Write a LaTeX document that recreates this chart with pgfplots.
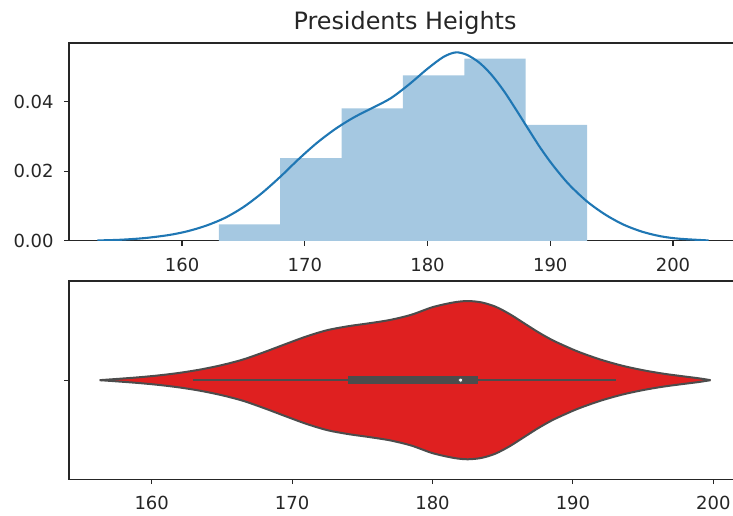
\documentclass[border=0pt]{standalone}
\usepackage{fontspec}
\setmainfont{DejaVu Sans}
\usepackage{pgfplots}
\pgfplotsset{compat=1.18}
\definecolor{c0}{HTML}{1F77B4}
\definecolor{histc}{HTML}{A5C8E1}
\definecolor{vred}{HTML}{DF2020}
\definecolor{vgray}{HTML}{4C4C4C}
\definecolor{spine}{HTML}{262626}
\pgfplotsset{
  myaxis/.style={
    scale only axis, width=672pt,
    axis line style={spine, line width=1.1pt},
    every tick/.style={spine, line width=1.1pt},
    major tick length=4.9pt,
    tick align=outside,
    xtick pos=left, ytick pos=left,
    scaled y ticks=false, scaled x ticks=false,
    tick label style={font=\fontsize{18}{21.6}\selectfont, text=spine, inner sep=0pt},
    xtick={160,170,180,190,200},
    xticklabels={160,170,180,190,200},
    xticklabel style={anchor=north, yshift=-11.8pt},
    yticklabel style={anchor=east, xshift=-10.3pt},
  }
}
\begin{document}
\begin{tikzpicture}
% ---------- top: histogram + KDE ----------
\begin{axis}[myaxis, at={(69pt,472pt)}, anchor=north west, height=197.8pt,
  xmin=150.79, xmax=205.54, ymin=0, ymax=0.0569,
  ytick={0,0.02,0.04}, yticklabels={0.00,0.02,0.04},
  title={Presidents Heights},
  title style={at={(0.5,1)}, anchor=base, yshift=7pt, inner sep=0pt,
    font=\fontsize{23.9}{28}\selectfont, text=spine}]
\addplot[const plot, fill=histc, draw=none] coordinates {
  (163,0.00476) (168,0.02381) (173,0.03810) (178,0.04762) (183,0.05238) (188,0.03333) (193,0.03333)
} \closedcycle;
\addplot[c0, line width=2.1pt, smooth] coordinates {
  (153.1,0.0001) (155,0.0003) (157,0.0008) (159,0.0017) (160.5,0.0028)
  (162,0.0044) (163.5,0.0066) (165,0.0097) (166.5,0.0137) (168,0.0184)
  (169.5,0.0235) (171,0.0282) (172.5,0.0322) (174,0.0355) (175.5,0.0382)
  (177,0.0410) (178.5,0.0450) (180,0.0495) (181.3,0.0529) (182.3,0.0542)
  (183.2,0.0535) (184.2,0.0513) (185.2,0.0478) (186.2,0.0432) (187.2,0.0378)
  (188.2,0.0322) (189.2,0.0267) (190.2,0.0218) (191.5,0.0163) (193,0.0113)
  (194.5,0.0075) (196,0.0046) (197.5,0.0026) (199,0.0013) (200.5,0.0006)
  (202.9,0.0001)
};
\end{axis}
% ---------- bottom: violin ----------
\begin{axis}[myaxis, at={(69pt,234pt)}, anchor=north west, height=198.3pt,
  xmin=154.11, xmax=201.97, ymin=-0.5, ymax=0.5,
  ytick={0}, yticklabels={}]
\addplot[fill=vred, draw=none, smooth] coordinates {
  (156.3,0) (157.5,0.006) (159,0.014) (160.5,0.024) (162,0.037) (163.5,0.054)
  (165,0.076) (166.5,0.104) (168,0.141) (169.5,0.181) (171,0.220) (172.5,0.252)
  (174,0.272) (175.5,0.287) (177,0.304) (178.5,0.330) (180,0.368) (181.5,0.392)
  (182.5,0.399) (183.5,0.392) (184.5,0.370) (185.5,0.333) (186.5,0.288)
  (187.5,0.243) (188.5,0.203) (189.5,0.170) (190.5,0.140) (192,0.103)
  (193.5,0.073) (195,0.050) (196.5,0.032) (198,0.018) (199,0.009) (199.8,0)
} \closedcycle;
\addplot[fill=vred, draw=none, smooth] coordinates {
  (156.3,0) (157.5,-0.006) (159,-0.014) (160.5,-0.024) (162,-0.037) (163.5,-0.054)
  (165,-0.076) (166.5,-0.104) (168,-0.141) (169.5,-0.181) (171,-0.220) (172.5,-0.252)
  (174,-0.272) (175.5,-0.287) (177,-0.304) (178.5,-0.330) (180,-0.368) (181.5,-0.392)
  (182.5,-0.399) (183.5,-0.392) (184.5,-0.370) (185.5,-0.333) (186.5,-0.288)
  (187.5,-0.243) (188.5,-0.203) (189.5,-0.170) (190.5,-0.140) (192,-0.103)
  (193.5,-0.073) (195,-0.050) (196.5,-0.032) (198,-0.018) (199,-0.009) (199.8,0)
} \closedcycle;
\addplot[vgray, line width=2pt, smooth] coordinates {
  (156.3,0) (157.5,0.006) (159,0.014) (160.5,0.024) (162,0.037) (163.5,0.054)
  (165,0.076) (166.5,0.104) (168,0.141) (169.5,0.181) (171,0.220) (172.5,0.252)
  (174,0.272) (175.5,0.287) (177,0.304) (178.5,0.330) (180,0.368) (181.5,0.392)
  (182.5,0.399) (183.5,0.392) (184.5,0.370) (185.5,0.333) (186.5,0.288)
  (187.5,0.243) (188.5,0.203) (189.5,0.170) (190.5,0.140) (192,0.103)
  (193.5,0.073) (195,0.050) (196.5,0.032) (198,0.018) (199,0.009) (199.8,0)
};
\addplot[vgray, line width=2pt, smooth] coordinates {
  (156.3,0) (157.5,-0.006) (159,-0.014) (160.5,-0.024) (162,-0.037) (163.5,-0.054)
  (165,-0.076) (166.5,-0.104) (168,-0.141) (169.5,-0.181) (171,-0.220) (172.5,-0.252)
  (174,-0.272) (175.5,-0.287) (177,-0.304) (178.5,-0.330) (180,-0.368) (181.5,-0.392)
  (182.5,-0.399) (183.5,-0.392) (184.5,-0.370) (185.5,-0.333) (186.5,-0.288)
  (187.5,-0.243) (188.5,-0.203) (189.5,-0.170) (190.5,-0.140) (192,-0.103)
  (193.5,-0.073) (195,-0.050) (196.5,-0.032) (198,-0.018) (199,-0.009) (199.8,0)
};
\addplot[vgray, line width=2.6pt, line cap=rect] coordinates {(163,0) (193,0)};
\addplot[vgray, line width=7.5pt, line cap=rect] coordinates {(174.25,0) (183,0)};
\addplot[only marks, mark=*, mark size=2pt, mark options={fill=white, draw=vgray, line width=0.6pt}] coordinates {(182,0)};
\end{axis}
\pgfresetboundingbox
\useasboundingbox (0,0) rectangle (733pt,515pt);
\end{tikzpicture}
\end{document}
